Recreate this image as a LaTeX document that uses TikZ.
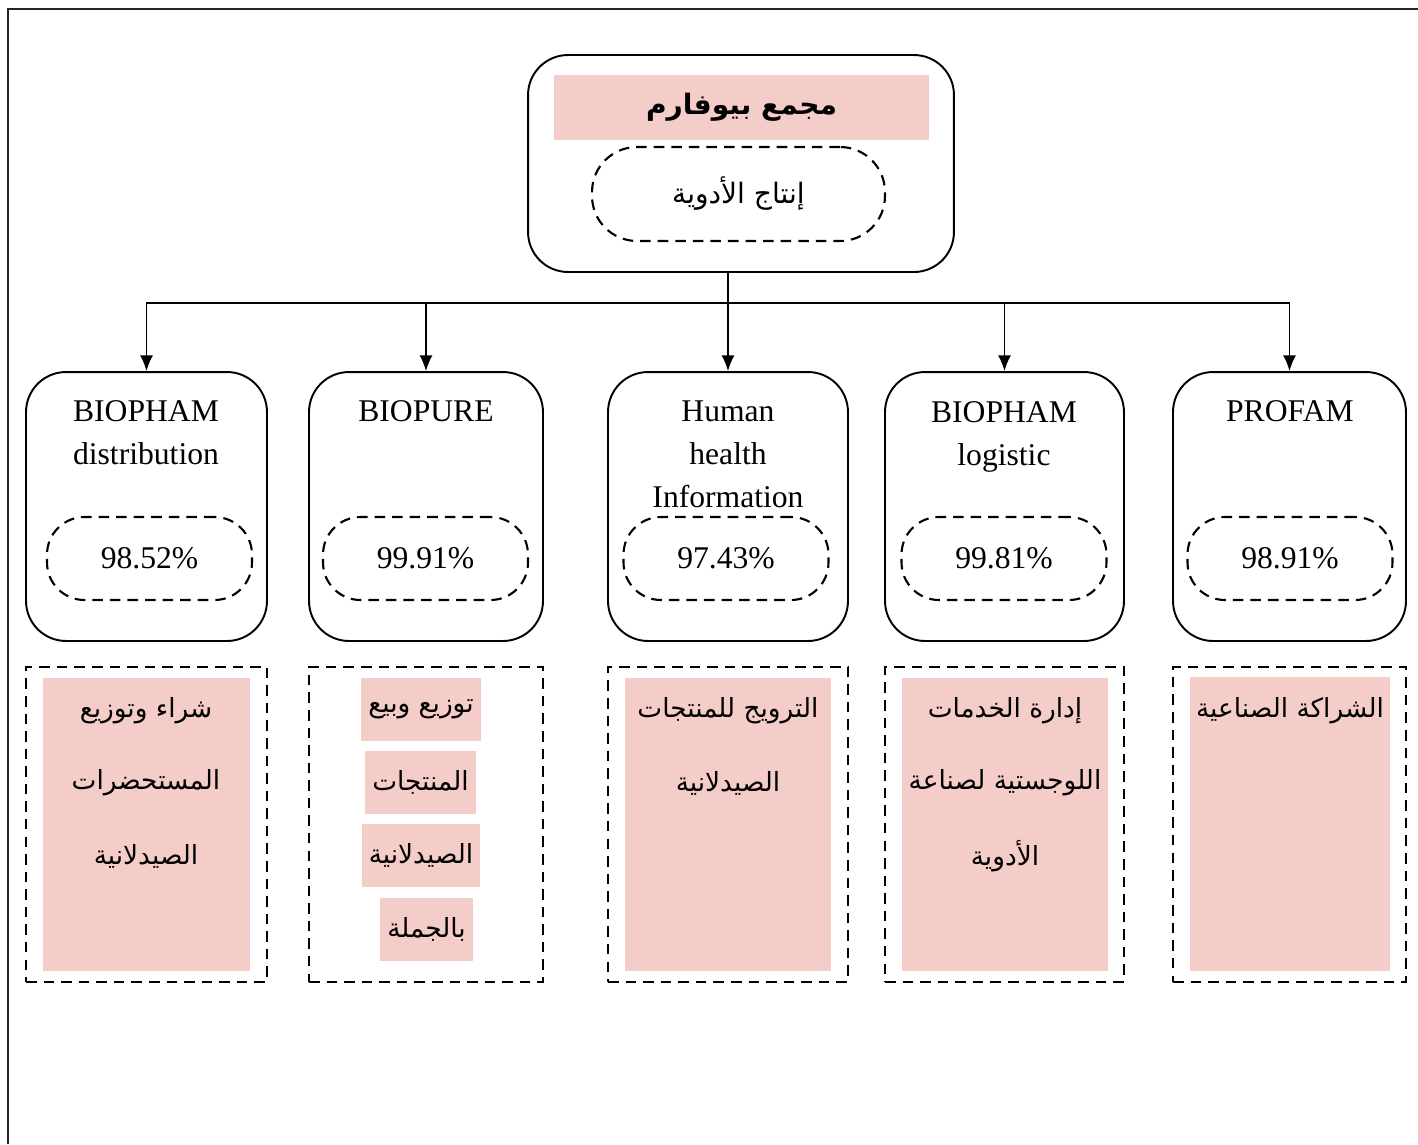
\documentclass[tikz,border=0pt]{standalone}
\usepackage{fontspec}
\setmainfont{Liberation Serif}
\newfontfamily\arabicfont[Script=Arabic]{DejaVu Sans}
\TeXXeTstate=1
\usetikzlibrary{arrows.meta,positioning}
\definecolor{rosa}{RGB}{244,204,200}

\begin{document}
\begin{tikzpicture}[x=0.02cm,y=-0.02cm,
  box/.style={draw,line width=1.1pt,rounded corners=0.8cm,minimum height=5.38cm},
  pill/.style={draw,line width=1.2pt,dash pattern=on 6pt off 4pt,rounded corners=0.75cm,
    minimum width=4.1cm,minimum height=1.66cm,font=\fontsize{18}{22}\selectfont},
  dbox/.style={draw,line width=1.4pt,dash pattern=on 6pt off 4pt,minimum height=6.3cm},
  pink/.style={fill=rosa,inner sep=0pt},
  ttl/.style={align=center,font=\fontsize{18}{24.5}\selectfont},
  atxt/.style={font=\fontsize{15}{20}\arabicfont},
  link/.style={line width=1pt,-{Latex[length=9pt,width=7.5pt]}}]
\useasboundingbox (0,0) rectangle (1418,1144);
\draw[line width=1.2pt,black!85] (8,1144) |- (1418,9);
% top
\node[box,minimum width=8.52cm,minimum height=4.34cm] (z) at (741,163.5) {};
\node[pink,minimum width=7.5cm,minimum height=1.3cm,font=\fontsize{16}{20}\arabicfont\bfseries] (t) at (741.5,107.5) {\beginR مجمع بيوفارم\endR};
\node[pill,minimum width=5.86cm,minimum height=1.88cm,rounded corners=0.9cm,font=\fontsize{16}{20}\arabicfont] (p) at (738.5,194) {\beginR إنتاج الأدوية\endR};
% companies
\node[box,minimum width=4.82cm] (a) at (146.5,506.5) {};
\node[box,minimum width=4.68cm] (b) at (426,506.5) {};
\node[box,minimum width=4.8cm] (c) at (728,506.5) {};
\node[box,minimum width=4.78cm] (d) at (1004.5,506.5) {};
\node[box,minimum width=4.66cm] (e) at (1289.5,506.5) {};
\node[ttl] (an) at (146,432.5) {BIOPHAM\\distribution};
\node[ttl] (bn) at (426,411) {BIOPURE};
\node[ttl] (cn) at (728,454) {Human\\health\\Information};
\node[ttl] (dn) at (1004,436.5) {BIOPHAM\\logistic};
\node[ttl] (en) at (1290,411) {PROFAM};
\node[pill] (ap) at (149.5,558.5) {98.52\%};
\node[pill] (bp) at (425.5,558.5) {99.91\%};
\node[pill] (cp) at (726,558.5) {97.43\%};
\node[pill] (dp) at (1004,558.5) {99.81\%};
\node[pill] (ep) at (1290,558.5) {98.91\%};
% activities
\node[dbox,minimum width=4.82cm] (ad) at (146.5,824.5) {};
\node[dbox,minimum width=4.68cm] (bd) at (426,824.5) {};
\node[dbox,minimum width=4.8cm] (cd) at (728,824.5) {};
\node[dbox,minimum width=4.78cm] (dd) at (1004.5,824.5) {};
\node[dbox,minimum width=4.66cm] (ed) at (1289.5,824.5) {};
\node[pink,minimum width=4.14cm,minimum height=5.86cm] (ar) at (146.5,824.5) {};
\node[atxt] (a1) at (146,711) {\beginR شراء وتوزيع\endR};
\node[atxt] (a2) at (146,783) {\beginR المستحضرات\endR};
\node[atxt] (a3) at (146,856) {\beginR الصيدلانية\endR};
\node[atxt,pink,minimum height=1.26cm,inner xsep=4pt] (b1) at (421,709.5) {\beginR توزيع وبيع\endR};
\node[atxt,pink,minimum height=1.26cm,inner xsep=4pt] (b2) at (420.5,782.5) {\beginR المنتجات\endR};
\node[atxt,pink,minimum height=1.26cm,inner xsep=4pt] (b3) at (421,855.5) {\beginR الصيدلانية\endR};
\node[atxt,pink,minimum height=1.26cm,inner xsep=4pt] (b4) at (426.5,929.5) {\beginR بالجملة\endR};
\node[pink,minimum width=4.12cm,minimum height=5.86cm] (cr) at (728,824.5) {};
\node[atxt] (c1) at (728,711) {\beginR الترويج للمنتجات\endR};
\node[atxt] (c2) at (728,783) {\beginR الصيدلانية\endR};
\node[pink,minimum width=4.12cm,minimum height=5.86cm] (dr) at (1005,824.5) {};
\node[atxt] (d1) at (1005,711) {\beginR إدارة الخدمات\endR};
\node[atxt] (d2) at (1005,783) {\beginR اللوجستية لصناعة\endR};
\node[atxt] (d3) at (1005,856) {\beginR الأدوية\endR};
\node[pink,minimum width=4cm,minimum height=5.88cm] (er) at (1290,824) {};
\node[atxt] (e1) at (1290,711) {\beginR الشراكة الصناعية\endR};
% links
\coordinate (m) at (c.north |- 0,303);
\draw[link] (c.north |- z.south) -- (c.north);
\draw[link] (m) -| (a.north);
\draw[link] (m) -| (b.north);
\draw[link] (m) -| (d.north);
\draw[link] (m) -| (e.north);
\end{tikzpicture}
\end{document}
